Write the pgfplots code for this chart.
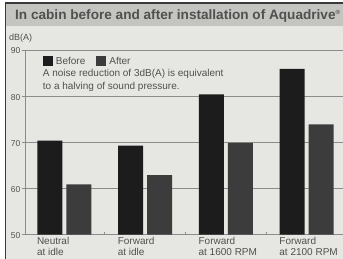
\documentclass[border=0pt]{standalone}
\usepackage{pgfplots}
\pgfplotsset{compat=1.18}
\usepackage{fontspec}
\setmainfont{Liberation Sans}
\definecolor{bg}{HTML}{E6E6E2}
\definecolor{titlebg}{HTML}{C4C4C0}
\definecolor{framec}{HTML}{3A3A3A}
\definecolor{txt}{HTML}{505050}
\definecolor{gridc}{HTML}{8C8C8A}
\definecolor{beforec}{HTML}{1C1C1C}
\definecolor{afterc}{HTML}{3C3C3C}
\begin{document}
\begin{tikzpicture}[x=1pt,y=1pt]
\useasboundingbox (0,0) rectangle (343,259);
\fill[white] (0,0) rectangle (343,259);
\fill[bg] (5,0) rectangle (343,256);
\fill[titlebg] (5,233) rectangle (343,256);
\draw[framec, line width=1.3pt] (5.6,0) -- (5.6,256) -- (343,256);
\node[anchor=west, text=txt, inner sep=0pt, font=\fontsize{13.6}{14}\selectfont\bfseries] at (15,243) {In cabin before and after installation of Aquadrive\textsuperscript{\fontsize{6}{6}\selectfont ®}};
\node[anchor=west, text=txt, inner sep=0pt, font=\fontsize{9}{10}\selectfont] at (9,221) {dB(A)};
\begin{axis}[
  at={(25pt,24.3pt)}, anchor=south west,
  scale only axis, width=318pt, height=184.7pt,
  xmin=-0.4866, xmax=3.449, ymin=50, ymax=90,
  ytick={50,60,70,80,90},
  ymajorgrids, grid style={gridc, line width=0.8pt},
  axis lines*=left,
  axis line style={gridc, line width=0.8pt},
  tick style={gridc, line width=0.8pt},
  tick align=outside, major tick length=3pt,
  /pgf/number format/assume math mode=true,
  yticklabel style={font=\fontsize{8.5}{9}\selectfont, text=txt, inner sep=1.5pt, yshift=-1pt},
  xtick={0,1,2,3},
  xticklabels={{Neutral\\at idle},{Forward\\at idle},{Forward\\at 1600 RPM},{Forward\\at 2100 RPM}},
  xticklabel style={anchor=north west, align=left, xshift=-27.5pt, yshift=1pt, inner sep=0pt, font=\fontsize{10}{11}\selectfont, text=txt},
  major x tick style={draw=none},
  extra x ticks={0.5,1.5,2.5},
  extra x tick labels={},
  extra x tick style={major x tick style={draw=gridc, line width=0.8pt}, tick align=inside, grid=none},
  ybar=4pt, bar width=25pt,
  legend style={at={(0.0557,0.939)}, anchor=west, draw=none, fill=none, inner sep=0pt,
    legend columns=2, font=\fontsize{10}{11}\selectfont, text=txt,
    /tikz/every even column/.append style={column sep=8pt},
    nodes={inner sep=3pt}},
  legend image code/.code={\fill[#1] (0pt,-5pt) rectangle (10pt,5pt);},
  clip=true,
]
\addplot[fill=beforec, draw=none] coordinates {(0,70.4) (1,69.3) (2,80.4) (3,85.9)};
\addplot[fill=afterc, draw=none] coordinates {(0,60.9) (1,62.9) (2,69.9) (3,73.9)};
\legend{Before, After}
\end{axis}
\node[anchor=north west, align=left, text=txt, inner sep=0pt, font=\fontsize{10}{12.7}\selectfont] at (42.7,189.5) {A noise reduction of 3dB(A) is equivalent\\to a halving of sound pressure.};
\end{tikzpicture}
\end{document}
